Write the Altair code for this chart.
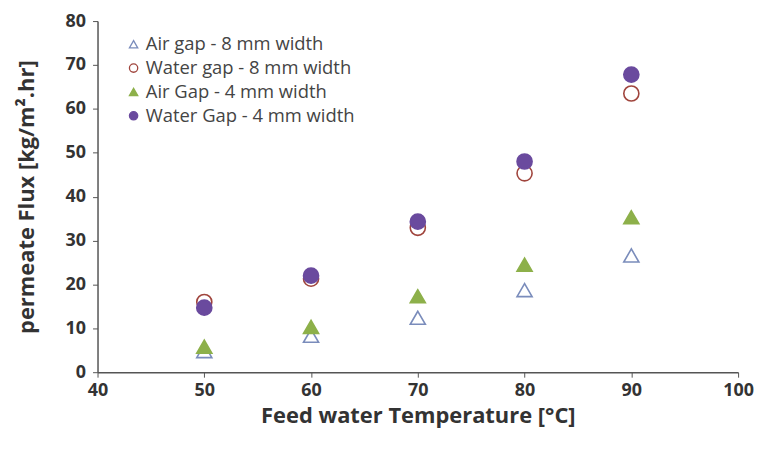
import altair as alt
import pandas as pd

temps = [50, 60, 70, 80, 90]
air_gap_8 = [4.8, 8.3, 12.4, 18.7, 26.6]
water_gap_8 = [16.0, 21.3, 32.9, 45.3, 63.5]
air_gap_4 = [5.8, 10.3, 17.3, 24.5, 35.3]
water_gap_4 = [14.7, 22.0, 34.3, 48.0, 67.8]

series_names = [
    "Air gap - 8 mm width",
    "Water gap - 8 mm width",
    "Air Gap - 4 mm width",
    "Water Gap - 4 mm width",
]
series_values = [air_gap_8, water_gap_8, air_gap_4, water_gap_4]
shapes = ["triangle-up", "circle", "triangle-up", "circle"]
strokes = ["#7a8cbb", "#a0453d", "#8db04a", "#6a4a9e"]
fills = ["transparent", "transparent", "#8db04a", "#6a4a9e"]

rows = []
for i, (name, vals) in enumerate(zip(series_names, series_values)):
    for t, v in zip(temps, vals):
        rows.append({"series": name, "order": i, "temp": t, "flux": v})
df = pd.DataFrame(rows)

font = "Open Sans"

chart = (
    alt.Chart(df)
    .mark_point(size=230, strokeWidth=1.6, fillOpacity=1, opacity=1)
    .encode(
        x=alt.X(
            "temp:Q",
            scale=alt.Scale(domain=[40, 100], nice=False),
            axis=alt.Axis(
                title="Feed water Temperature [°C]",
                values=[40, 50, 60, 70, 80, 90, 100],
                grid=False,
                tickSize=5,
                labelPadding=4,
                titlePadding=7,
                titleFontSize=22,
                labelFlush=False,
            ),
        ),
        y=alt.Y(
            "flux:Q",
            scale=alt.Scale(domain=[0, 80], nice=False),
            axis=alt.Axis(
                title="permeate Flux [kg/m².hr]",
                values=[0, 10, 20, 30, 40, 50, 60, 70, 80],
                grid=False,
                tickSize=5,
                labelPadding=7,
                titlePadding=27,
                titleFontSize=22,
                labelFlush=False,
            ),
        ),
        shape=alt.Shape(
            "series:N",
            scale=alt.Scale(domain=series_names, range=shapes),
            legend=alt.Legend(title=None),
        ),
        stroke=alt.Stroke(
            "series:N",
            scale=alt.Scale(domain=series_names, range=strokes),
            legend=alt.Legend(title=None),
        ),
        fill=alt.Fill(
            "series:N",
            scale=alt.Scale(domain=series_names, range=fills),
            legend=alt.Legend(title=None),
        ),
        order=alt.Order("order:Q"),
    )
    .properties(
        width=644,
        height=353,
        autosize=alt.AutoSizeParams(type="none"),
        padding={"left": 90, "top": 12, "right": 17, "bottom": 62},
    )
    .configure_view(stroke=None)
    .configure_axis(
        labelFont=font,
        labelFontSize=18,
        labelFontWeight="bold",
        labelColor="#333333",
        titleFont=font,
        titleFontWeight="bold",
        titleColor="#333333",
        domainColor="#555555",
        tickColor="#555555",
        domainWidth=1.5,
    )
    .configure_legend(
        orient="none",
        legendX=27,
        legendY=14,
        labelFont=font,
        labelFontSize=18.5,
        labelFontWeight=500,
        labelColor="#444444",
        labelLimit=400,
        symbolSize=70,
        symbolStrokeWidth=1.3,
        rowPadding=5,
        labelOffset=3,
    )
)

chart.save("out.html", embed_options={"renderer": "svg", "actions": False})
